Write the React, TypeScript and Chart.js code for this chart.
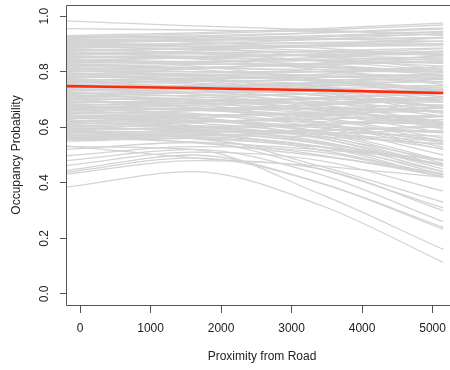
import React, { useEffect, useRef } from 'react';
import { Chart, registerables } from 'chart.js';

Chart.register(...registerables);

const FONT = '"Liberation Sans", Arial, Helvetica, sans-serif';

// x positions (proximity from road) at which each posterior curve is read
const xPoints = [-200, 1600, 3400, 5150];

// posterior draws: occupancy probability at each x position
const probStart = [
  0.983, 0.955, 0.93, 0.925, 0.92, 0.915, 0.91, 0.905, 0.9, 0.895,
  0.89, 0.885, 0.88, 0.875, 0.87, 0.865, 0.86, 0.855, 0.85, 0.845,
  0.84, 0.835, 0.83, 0.825, 0.82, 0.815, 0.81, 0.805, 0.8, 0.795,
  0.79, 0.785, 0.78, 0.775, 0.77, 0.765, 0.76, 0.755, 0.75, 0.745,
  0.74, 0.735, 0.73, 0.725, 0.72, 0.715, 0.71, 0.705, 0.7, 0.695,
  0.69, 0.685, 0.68, 0.675, 0.67, 0.665, 0.66, 0.655, 0.65, 0.645,
  0.64, 0.635, 0.63, 0.625, 0.62, 0.615, 0.61, 0.605, 0.6, 0.595,
  0.59, 0.585, 0.58, 0.575, 0.57, 0.565, 0.56, 0.555, 0.55, 0.533,
  0.52, 0.497, 0.48, 0.462, 0.444, 0.438, 0.431, 0.384, 0.53,
  0.928, 0.923, 0.918, 0.913, 0.908, 0.903, 0.898, 0.893, 0.888, 0.883,
  0.878, 0.873, 0.868, 0.863, 0.858, 0.853, 0.848, 0.843, 0.838, 0.833,
  0.828, 0.823, 0.818, 0.813, 0.808, 0.803, 0.798, 0.793, 0.788, 0.783,
  0.778, 0.773, 0.768, 0.763, 0.758, 0.753, 0.748, 0.743, 0.738, 0.733,
  0.728, 0.723, 0.718, 0.713, 0.708, 0.703, 0.698, 0.693, 0.688, 0.683,
  0.678, 0.673, 0.668, 0.663, 0.658, 0.653, 0.648, 0.643, 0.638, 0.633,
  0.628, 0.623, 0.618, 0.613, 0.608, 0.603, 0.598, 0.593, 0.588, 0.583,
  0.578, 0.573, 0.568, 0.563, 0.558,
];
const prob1600 = [
  0.965, 0.95, 0.94, 0.935, 0.925, 0.92, 0.91, 0.915, 0.9, 0.9,
  0.88, 0.89, 0.87, 0.885, 0.87, 0.855, 0.865, 0.85, 0.855, 0.835,
  0.85, 0.83, 0.835, 0.815, 0.825, 0.8, 0.815, 0.79, 0.8, 0.785,
  0.795, 0.77, 0.78, 0.76, 0.775, 0.755, 0.765, 0.74, 0.75, 0.735,
  0.745, 0.72, 0.735, 0.71, 0.725, 0.7, 0.715, 0.69, 0.7, 0.685,
  0.695, 0.67, 0.685, 0.665, 0.68, 0.65, 0.665, 0.645, 0.66, 0.63,
  0.645, 0.625, 0.64, 0.615, 0.625, 0.605, 0.62, 0.6, 0.605, 0.59,
  0.6, 0.58, 0.585, 0.575, 0.58, 0.565, 0.57, 0.56, 0.56, 0.49,
  0.545, 0.53, 0.52, 0.51, 0.5, 0.49, 0.48, 0.44, 0.52,
  0.925, 0.929, 0.906, 0.915, 0.888, 0.911, 0.89, 0.893, 0.898, 0.867,
  0.882, 0.849, 0.864, 0.875, 0.846, 0.855, 0.82, 0.851, 0.83, 0.837,
  0.808, 0.833, 0.814, 0.781, 0.814, 0.789, 0.81, 0.769, 0.788, 0.773,
  0.786, 0.737, 0.772, 0.745, 0.77, 0.747, 0.72, 0.749, 0.726, 0.743,
  0.688, 0.725, 0.698, 0.725, 0.7, 0.671, 0.706, 0.677, 0.692, 0.639,
  0.688, 0.661, 0.668, 0.635, 0.666, 0.633, 0.66, 0.607, 0.642, 0.623,
  0.588, 0.633, 0.602, 0.619, 0.58, 0.617, 0.592, 0.559, 0.596, 0.563,
  0.59, 0.545, 0.572, 0.547, 0.568,
];
const prob3400 = [
  0.95, 0.945, 0.955, 0.95, 0.94, 0.93, 0.915, 0.925, 0.9, 0.905,
  0.87, 0.895, 0.855, 0.895, 0.87, 0.84, 0.875, 0.84, 0.86, 0.82,
  0.86, 0.815, 0.84, 0.8, 0.83, 0.785, 0.825, 0.77, 0.8, 0.765,
  0.8, 0.745, 0.78, 0.74, 0.78, 0.73, 0.77, 0.715, 0.75, 0.7,
  0.755, 0.69, 0.74, 0.68, 0.73, 0.665, 0.72, 0.65, 0.7, 0.66,
  0.705, 0.635, 0.69, 0.63, 0.69, 0.61, 0.665, 0.6, 0.67, 0.585,
  0.645, 0.58, 0.655, 0.57, 0.62, 0.56, 0.63, 0.565, 0.6, 0.55,
  0.61, 0.54, 0.575, 0.545, 0.59, 0.53, 0.565, 0.53, 0.46, 0.46,
  0.45, 0.51, 0.43, 0.48, 0.4, 0.4, 0.45, 0.32, 0.36,
  0.918, 0.94, 0.885, 0.919, 0.853, 0.925, 0.876, 0.893, 0.916, 0.839,
  0.889, 0.807, 0.857, 0.896, 0.825, 0.859, 0.771, 0.865, 0.816, 0.844,
  0.773, 0.851, 0.807, 0.725, 0.825, 0.765, 0.831, 0.727, 0.788, 0.756,
  0.8, 0.674, 0.779, 0.714, 0.791, 0.737, 0.671, 0.76, 0.705, 0.761,
  0.618, 0.729, 0.663, 0.746, 0.686, 0.615, 0.72, 0.649, 0.699, 0.562,
  0.706, 0.64, 0.668, 0.586, 0.68, 0.598, 0.681, 0.544, 0.649, 0.606,
  0.518, 0.651, 0.574, 0.63, 0.531, 0.641, 0.582, 0.5, 0.61, 0.528,
  0.611, 0.496, 0.579, 0.519, 0.586,
];
const probEnd = [
  0.93, 0.94, 0.975, 0.968, 0.958, 0.945, 0.92, 0.935, 0.9, 0.91,
  0.86, 0.9, 0.83, 0.91, 0.87, 0.82, 0.885, 0.83, 0.865, 0.8,
  0.875, 0.79, 0.845, 0.775, 0.84, 0.76, 0.835, 0.74, 0.8, 0.735,
  0.81, 0.71, 0.78, 0.7, 0.79, 0.69, 0.775, 0.67, 0.75, 0.65,
  0.765, 0.64, 0.745, 0.62, 0.735, 0.6, 0.73, 0.58, 0.7, 0.62,
  0.72, 0.56, 0.69, 0.55, 0.7, 0.52, 0.66, 0.5, 0.68, 0.48,
  0.64, 0.47, 0.67, 0.46, 0.61, 0.45, 0.64, 0.48, 0.58, 0.44,
  0.62, 0.43, 0.55, 0.46, 0.6, 0.42, 0.54, 0.44, 0.33, 0.42,
  0.31, 0.42, 0.26, 0.37, 0.24, 0.233, 0.3, 0.114, 0.16,
  0.908, 0.953, 0.858, 0.923, 0.808, 0.943, 0.858, 0.893, 0.938, 0.803,
  0.898, 0.753, 0.848, 0.923, 0.798, 0.863, 0.708, 0.883, 0.798, 0.853,
  0.728, 0.873, 0.798, 0.653, 0.838, 0.733, 0.858, 0.673, 0.788, 0.733,
  0.818, 0.593, 0.788, 0.673, 0.818, 0.723, 0.608, 0.773, 0.678, 0.783,
  0.528, 0.733, 0.618, 0.773, 0.668, 0.543, 0.738, 0.613, 0.708, 0.463,
  0.728, 0.613, 0.668, 0.523, 0.698, 0.553, 0.708, 0.463, 0.658, 0.583,
  0.428, 0.673, 0.538, 0.643, 0.468, 0.673, 0.568, 0.423, 0.628, 0.483,
  0.638, 0.433, 0.588, 0.483, 0.608,
];

// posterior mean curve
const meanProb = [0.748, 0.741, 0.733, 0.723];

const xTickValues = [0, 1000, 2000, 3000, 4000, 5000];
const xTickLabels = ['0', '1000', '2000', '3000', '4000', '5000'];
const yTickValues = [0, 0.2, 0.4, 0.6, 0.8, 1.0];
const yTickLabels = ['0.0', '0.2', '0.4', '0.6', '0.8', '1.0'];

const rPlotPlugin = {
  id: 'rPlotBox',
  afterDraw(chart: any) {
    const { ctx, chartArea: a, scales } = chart;
    ctx.save();
    ctx.strokeStyle = '#555';
    ctx.lineWidth = 1;
    ctx.beginPath();
    ctx.rect(Math.round(a.left) + 0.5, Math.round(a.top) + 0.5, Math.round(a.right - a.left), Math.round(a.bottom - a.top));
    ctx.stroke();
    const ys = scales.y;
    ctx.fillStyle = '#222';
    ctx.font = `12px ${FONT}`;
    ctx.textAlign = 'center';
    ctx.textBaseline = 'middle';
    yTickValues.forEach((v, i) => {
      const py = ys.getPixelForValue(v);
      ctx.save();
      ctx.translate(45, py);
      ctx.rotate(-Math.PI / 2);
      ctx.fillText(yTickLabels[i], 0, 0);
      ctx.restore();
    });
    ctx.restore();
  },
};

export default function App() {
  const ref = useRef<HTMLCanvasElement | null>(null);

  useEffect(() => {
    if (!ref.current) return;
    const grayDatasets = probStart.map((_, i) => ({
      data: xPoints.map((x, j) => ({ x, y: [probStart[i], prob1600[i], prob3400[i], probEnd[i]][j] })),
      borderColor: '#d3d3d3',
      borderWidth: 1.3,
      pointRadius: 0,
      fill: false,
      cubicInterpolationMode: 'monotone' as const,
    }));
    const chart = new Chart(ref.current, {
      type: 'line',
      data: {
        datasets: [
          {
            data: xPoints.map((x, j) => ({ x, y: meanProb[j] })),
            borderColor: '#ff2a10',
            borderWidth: 2.6,
            pointRadius: 0,
            fill: false,
            cubicInterpolationMode: 'monotone',
          },
          ...grayDatasets,
        ],
      },
      options: {
        animation: false,
        responsive: false,
        events: [],
        layout: { padding: { left: 0, top: 5, right: 2, bottom: 0 } },
        plugins: { legend: { display: false }, tooltip: { enabled: false } },
        scales: {
          x: {
            type: 'linear',
            min: -200,
            max: 5360,
            afterBuildTicks: (s: any) => {
              s.ticks = xTickValues.map((v) => ({ value: v }));
            },
            afterFit: (s: any) => {
              s.height = 65;
            },
            grid: { drawOnChartArea: false, drawTicks: true, tickLength: 8, color: '#555', tickColor: '#555' },
            border: { display: false },
            ticks: {
              autoSkip: false,
              maxRotation: 0,
              padding: 8,
              color: '#222',
              font: { size: 12, family: FONT },
              callback: (v: any) => {
                const k = xTickValues.indexOf(Number(v));
                return k >= 0 ? xTickLabels[k] : '';
              },
            },
            title: {
              display: true,
              text: 'Proximity from Road',
              color: '#222',
              font: { size: 12, family: FONT },
              padding: { top: 0, bottom: 6 },
            },
          },
          y: {
            type: 'linear',
            min: -0.04,
            max: 1.04,
            afterBuildTicks: (s: any) => {
              s.ticks = yTickValues.map((v) => ({ value: v }));
            },
            afterFit: (s: any) => {
              s.width = 66;
            },
            grid: { drawOnChartArea: false, drawTicks: true, tickLength: 6, color: '#555', tickColor: '#555' },
            border: { display: false },
            ticks: { display: false },
            title: {
              display: true,
              text: 'Occupancy Probability',
              color: '#222',
              font: { size: 12, family: FONT },
              padding: { top: 9, bottom: 0 },
            },
          },
        },
      },
      plugins: [rPlotPlugin],
    });
    return () => chart.destroy();
  }, []);

  return (
    <div style={{ position: 'fixed', left: 0, top: 0, width: 450, height: 370, overflow: 'hidden', background: '#fff' }}>
      <canvas ref={ref} width={460} height={370} style={{ width: 460, height: 370, display: 'block' }} />
    </div>
  );
}
